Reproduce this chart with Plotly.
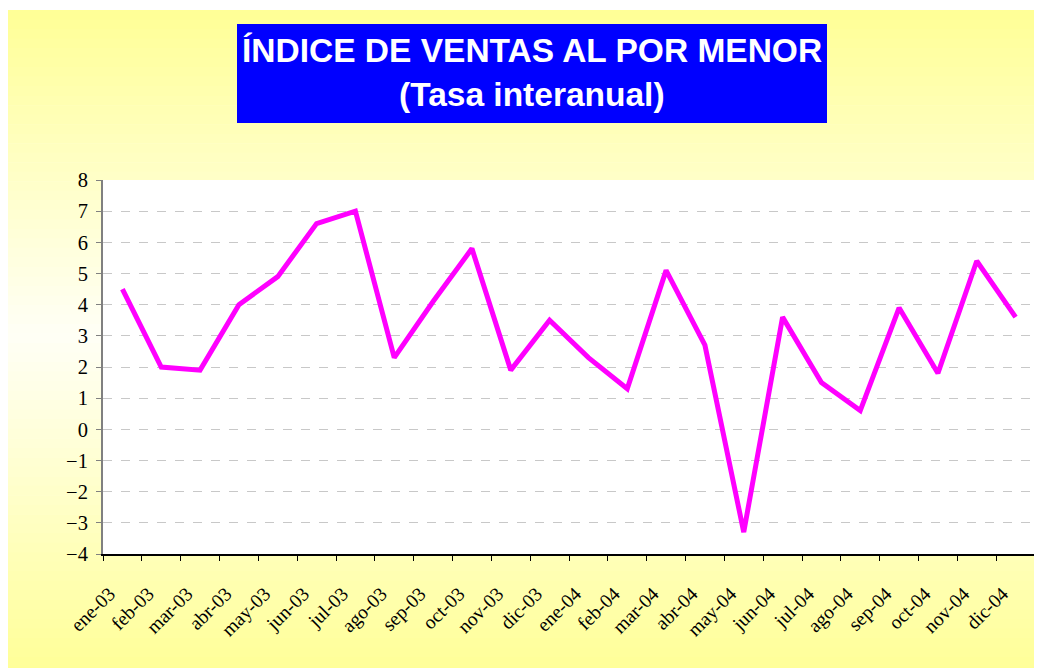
import plotly.graph_objects as go

# ---- data ----
months = ["ene-03", "feb-03", "mar-03", "abr-03", "may-03", "jun-03", "jul-03", "ago-03",
          "sep-03", "oct-03", "nov-03", "dic-03", "ene-04", "feb-04", "mar-04", "abr-04",
          "may-04", "jun-04", "jul-04", "ago-04", "sep-04", "oct-04", "nov-04", "dic-04"]
tasa = [4.5, 2.0, 1.9, 4.0, 4.9, 6.6, 7.0, 2.3,
        4.1, 5.8, 1.9, 3.5, 2.3, 1.3, 5.1, 2.7,
        -3.3, 3.6, 1.5, 0.6, 3.9, 1.8, 5.4, 3.6]
title_line1 = "ÍNDICE DE VENTAS AL POR MENOR"
title_line2 = "(Tasa interanual)"

# ---- layout geometry (pixels, figure coords) ----
W, H = 1042, 668
L, R, T, B = 95, 15, 172, 122
PW, PH = W - L - R, H - T - B


def px(x):
    return (x - L) / PW


def py(y):
    return (H - B - y) / PH


fig = go.Figure()
fig.add_trace(go.Scatter(x=months, y=tasa, mode="lines",
                         line=dict(color="#FF00FF", width=5), showlegend=False,
                         hoverinfo="x+y"))

shapes = []
# vertical gradient background (yellow at edges, pale at centre)
top, bot, mid = 2, 668, 327
nb = 70
for i in range(nb):
    y0 = top + (bot - top) * i / nb
    y1 = top + (bot - top) * (i + 1) / nb
    yc = (y0 + y1) / 2
    if yc < mid:
        t = (mid - yc) / (mid - top)
    else:
        t = (yc - mid) / (bot - mid)
    b = int(round(0xF6 - (0xF6 - 0x96) * t))
    col = "#FFFF%02X" % b
    shapes.append(dict(type="rect", xref="paper", yref="paper",
                       x0=px(0), x1=px(W + 2), y0=py(y1 + 0.6), y1=py(y0),
                       fillcolor=col, line=dict(width=0), layer="below"))
# white plot area
shapes.append(dict(type="rect", xref="x domain", yref="y domain", x0=0, x1=1, y0=0, y1=1,
                   fillcolor="white", line=dict(width=0), layer="below"))
# title box
shapes.append(dict(type="rect", xref="paper", yref="paper",
                   x0=px(229), x1=px(819), y0=py(115), y1=py(16),
                   fillcolor="#0000FF", line=dict(width=0), layer="above"))

annotations = [
    dict(text=title_line1, xref="paper", yref="paper", x=px(524), y=py(43),
         xanchor="center", yanchor="middle", showarrow=False,
         font=dict(family="Liberation Sans, Arial", size=33.5, color="white", weight="bold")),
    dict(text=title_line2, xref="paper", yref="paper", x=px(524), y=py(87),
         xanchor="center", yanchor="middle", showarrow=False,
         font=dict(family="Liberation Sans, Arial", size=33.5, color="white", weight="bold")),
]

fig.update_layout(
    width=W, height=H,
    margin=dict(l=L, r=R, t=T, b=B),
    paper_bgcolor="white",
    plot_bgcolor="white",
    shapes=shapes,
    annotations=annotations,
    showlegend=False,
    font=dict(family="Liberation Serif, Times New Roman", size=19, color="black"),
)
fig.update_xaxes(type="category", range=[-0.5, len(months) - 0.5],
                 tickson="boundaries", ticks="outside", ticklen=5,
                 tickcolor="black", showline=True, linecolor="black", linewidth=1.5,
                 showgrid=False, tickangle=-45, ticklabelstandoff=19, ticklabelshift=-13,
                 tickfont=dict(family="Liberation Serif, Times New Roman", size=19.5, color="black"))
fig.update_yaxes(range=[-4, 8], dtick=1, ticks="outside", ticklen=5, tickcolor="#808080",
                 showline=True, linecolor="#808080", linewidth=2,
                 showgrid=True, gridcolor="#C8C8C8", griddash="dash", gridwidth=1,
                 zeroline=False, ticklabelstandoff=4,
                 tickfont=dict(family="Liberation Serif, Times New Roman", size=20.5, color="black"))

fig.write_html("out.html")
